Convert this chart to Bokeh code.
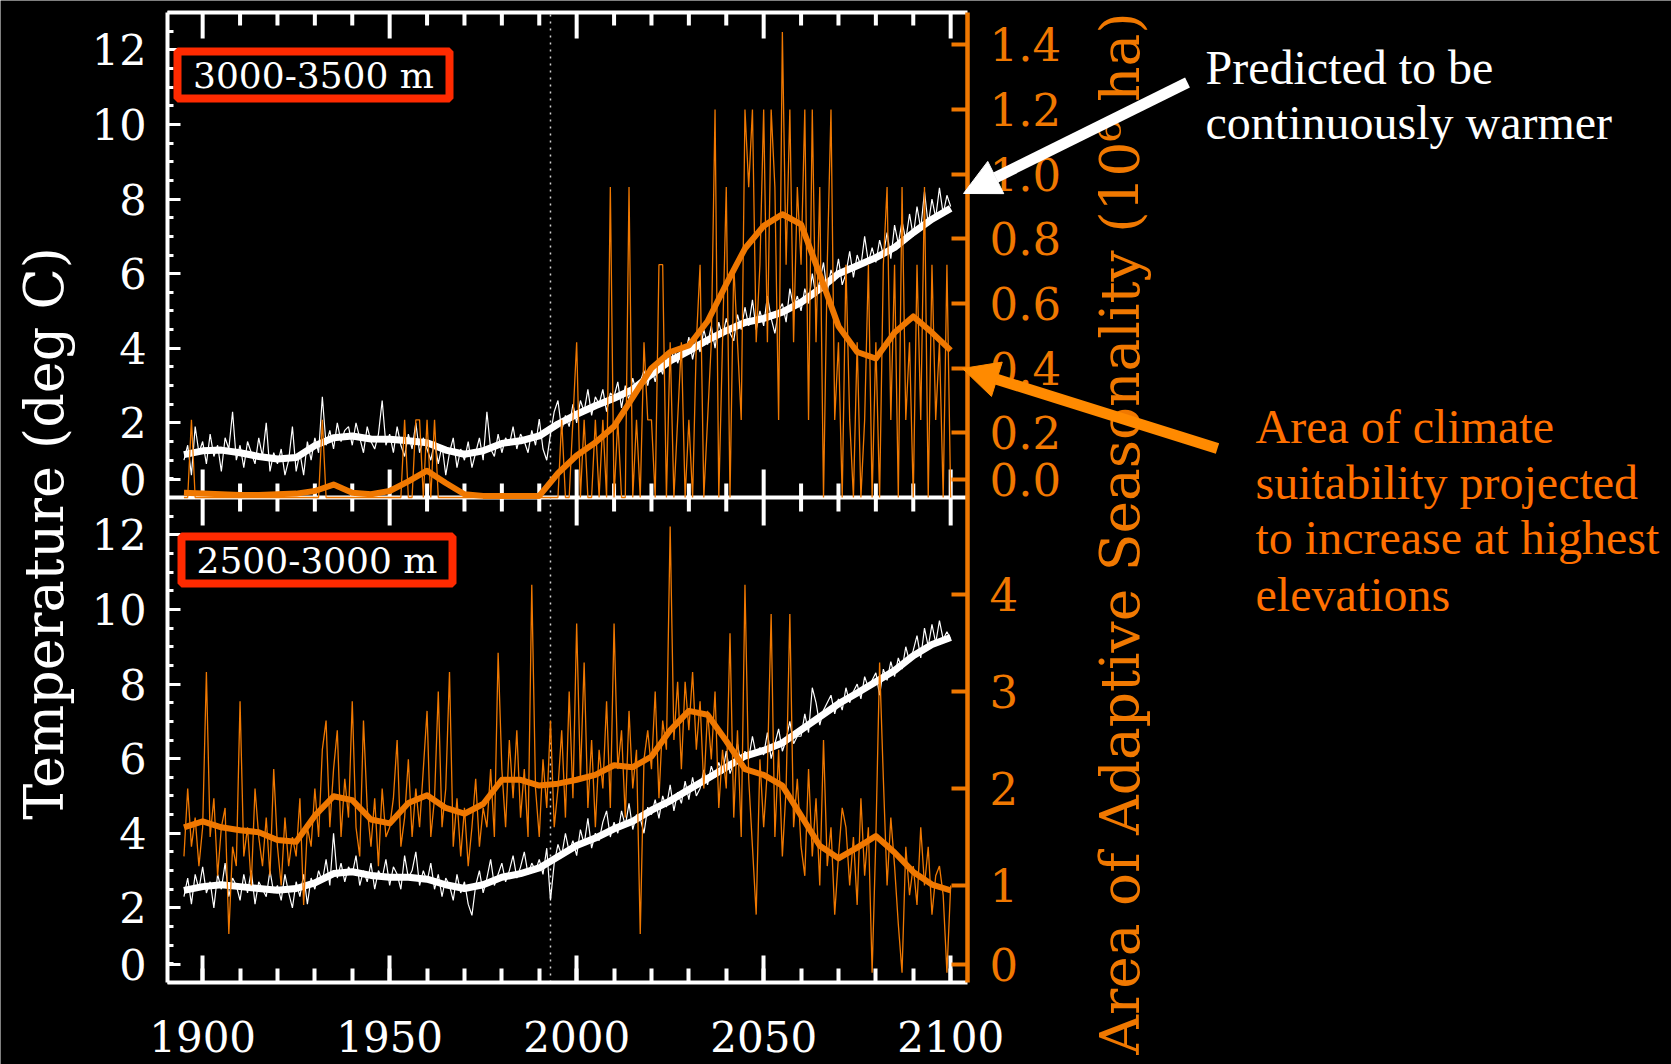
import math
from bokeh.plotting import figure
from bokeh.models import (Range1d, LinearAxis, FixedTicker, CustomJSTickFormatter,
                          Label, Arrow, NormalHead, BoxAnnotation)
from bokeh.embed import file_html
from bokeh.resources import INLINE

# ---------------- data ----------------
years = list(range(1895, 2101))           # annual values
smooth_years = list(range(1895, 2101, 5))  # smoothed curves

# 3000-3500 m : annual temperature (deg C)
temp_top = [
    1.0, 1.4, 0.6, 1.9, 1.2,
    1.5, 0.9, 1.7, 1.1, 1.4, 0.7, 1.6, 1.3, 2.3, 1.0,
    1.4, 0.8, 1.5, 1.2, 0.9, 1.6, 1.1, 2.0, 0.7, 1.2,
    0.9, 1.3, 0.6, 1.0, 1.9, 0.7, 1.2, 0.6, 1.5, 1.0,
    1.6, 1.2, 2.7, 1.4, 1.8, 1.3, 2.0, 1.5, 1.8, 1.9,
    1.4, 2.0, 1.6, 1.2, 1.9, 1.5, 1.3, 1.7, 2.6, 1.4,
    1.7, 1.2, 1.9, 1.4, 1.1, 1.7, 1.3, 2.0, 1.2, 1.6,
    1.3, 1.0, 1.5, 0.9, 1.4, 0.6, 1.2, 1.6, 0.8, 1.3,
    1.0, 1.5, 0.8, 1.2, 1.6, 1.0, 2.3, 1.3, 1.1, 1.7,
    1.2, 1.6, 1.4, 1.9, 1.3, 1.7, 1.5, 1.2, 1.8, 1.4,
    2.1, 1.3, 1.0, 1.7, 2.3, 2.6, 1.8, 2.2, 1.9, 2.5,
    2.0, 2.6, 2.3, 2.9, 2.2, 2.7, 2.5, 2.9, 2.3, 2.8,
    2.7, 3.1, 2.4, 3.0, 2.6, 3.2, 2.8, 3.1, 3.4, 3.0,
    3.5, 3.1, 3.6, 3.3, 3.9, 3.5, 4.0, 3.6, 3.9, 3.8,
    4.3, 3.7, 4.2, 3.9, 4.5, 4.1, 4.6, 4.0, 4.7, 4.3,
    4.8, 4.4, 4.2, 4.9, 4.5, 5.1, 4.6, 5.3, 4.5, 5.0,
    4.6, 5.4, 4.8, 4.4, 5.0, 5.2, 4.7, 5.6, 5.1, 5.4,
    5.0, 5.6, 5.2, 6.0, 5.4, 5.8, 6.3, 5.5, 6.1, 5.8,
    6.4, 5.7, 6.0, 6.6, 5.9, 6.5, 6.2, 7.0, 6.3, 6.7,
    6.3, 6.9, 6.5, 7.1, 6.4, 7.3, 6.8, 7.4, 6.9, 7.6,
    7.0, 7.8, 7.2, 8.2, 7.3, 8.0, 7.5, 8.3, 7.6, 8.1,
    7.8,
]
# 3000-3500 m : annual area of adaptive seasonality (10^6 ha)
area_top = [
    0, 0, 0.24, 0, 0,
    0, 0, 0, 0, 0, 0, 0, 0, 0, 0,
    0, 0, 0, 0, 0, 0, 0, 0, 0, 0,
    0, 0, 0, 0, 0, 0, 0, 0, 0, 0,
    0, 0, 0.24, 0, 0, 0, 0, 0, 0, 0,
    0, 0, 0, 0, 0, 0, 0, 0, 0, 0,
    0, 0, 0, 0, 0.24, 0, 0, 0.24, 0.24, 0,
    0.24, 0, 0.24, 0, 0, 0, 0, 0, 0, 0,
    0, 0, 0, 0, 0, 0, 0, 0, 0, 0,
    0, 0, 0, 0, 0, 0, 0, 0, 0, 0,
    0, 0, 0, 0, 0, 0, 0.24, 0, 0, 0.24,
    0.48, 0, 0.24, 0, 0, 0.24, 0, 0.24, 0, 0.96,
    0, 0.24, 0, 0, 0.96, 0, 0.24, 0, 0.48, 0.24,
    0.24, 0, 0.72, 0.72, 0, 0.48, 0, 0.24, 0.48, 0,
    0.24, 0, 0.48, 0.72, 0, 0.24, 0.48, 1.2, 0, 0.48,
    0.96, 0, 0.72, 0.48, 0.24, 1.2, 0.96, 1.2, 0.48, 0.72,
    1.2, 0.48, 1.2, 0.96, 0.24, 1.44, 0.72, 1.2, 0.48, 0.96,
    0.72, 1.2, 0.24, 1.2, 0.48, 0.96, 0, 0.72, 1.2, 0.24,
    0.48, 0, 0.72, 0.24, 0, 0.48, 0, 0.24, 0.72, 0,
    0.48, 0, 0.72, 0.96, 0.24, 0.72, 0, 0.96, 0.24, 0.48,
    0, 0.72, 0.24, 0.96, 0, 0.72, 0.24, 0.48, 0, 0.72,
    0,
]
# 2500-3000 m : annual temperature (deg C)
temp_bot = [
    2.3, 2.8, 2.1, 2.9, 2.5,
    3.1, 2.4, 2.7, 2.0, 2.9, 2.5, 3.2, 2.3, 2.8, 2.6,
    2.2, 2.9, 2.4, 3.0, 2.1, 2.7, 2.5, 2.3, 3.0, 2.4,
    2.6, 2.2, 2.9, 2.4, 2.0, 2.7, 2.3, 2.9, 2.1, 2.8,
    2.5, 3.0, 2.7, 3.3, 2.6, 4.0, 2.8, 3.2, 2.7, 3.1,
    2.9, 3.4, 2.6, 3.0, 2.7, 3.2, 2.5, 3.0, 2.8, 3.3,
    2.6, 3.1, 2.9, 2.5, 3.4, 2.8, 3.0, 3.5, 2.6, 3.0,
    2.7, 3.2, 2.5, 2.9, 2.3, 2.8, 2.6, 2.2, 2.9, 2.4,
    2.7, 2.1, 1.8, 2.6, 3.0, 2.4, 2.8, 3.3, 2.6, 2.9,
    3.2, 2.7, 3.0, 3.4, 2.8, 3.1, 3.5, 2.9, 3.2, 3.0,
    3.3, 2.9, 3.6, 2.2, 3.2, 3.7, 3.4, 4.0, 3.5, 3.8,
    3.4, 4.1, 3.7, 4.4, 3.6, 4.0, 3.8, 4.3, 4.6, 3.9,
    4.3, 4.0, 4.6, 4.2, 4.8, 4.1, 4.5, 4.4, 4.0, 4.7,
    4.5, 4.9, 4.4, 5.0, 4.7, 5.3, 4.6, 5.1, 4.8, 5.4,
    4.9, 5.5, 5.0, 5.2, 5.7, 5.3, 5.8, 5.5, 5.9, 5.6,
    6.2, 5.6, 5.9, 6.4, 5.8, 6.2, 6.0, 6.6, 6.1, 6.3,
    6.1, 6.7, 6.0, 6.4, 6.8, 6.2, 6.5, 7.0, 6.4, 6.6,
    6.6, 7.2, 6.7, 7.9, 7.5, 6.9, 7.3, 7.5, 7.7, 7.2,
    7.6, 7.3, 7.9, 7.5, 7.8, 8.0, 7.6, 8.2, 7.9, 8.1,
    8.3, 7.7, 8.4, 8.1, 8.6, 8.2, 8.7, 8.4, 9.0, 8.6,
    8.9, 9.3, 8.7, 9.5, 9.0, 9.6, 9.1, 9.7, 9.2, 9.4,
    9.2,
]
# 2500-3000 m : annual area of adaptive seasonality (10^6 ha)
area_bot = [
    1.3, 2.0, 1.4, 1.7, 1.2,
    1.6, 3.2, 1.5, 1.9, 1.1, 1.6, 1.8, 0.5, 1.4, 1.2,
    2.9, 1.3, 1.6, 1.0, 2.0, 1.5, 1.2, 1.7, 1.1, 2.2,
    1.4, 1.0, 1.7, 1.2, 1.5, 1.3, 1.9, 0.8, 1.6, 1.4,
    2.0, 1.5, 2.4, 2.7, 1.6, 2.2, 2.6, 1.5, 2.1, 1.7,
    2.9, 1.6, 1.3, 2.7, 1.8, 1.4, 1.9, 1.2, 2.0, 1.5,
    1.6, 1.9, 2.5, 1.4, 1.7, 2.3, 1.5, 2.0, 1.6, 2.2,
    2.8, 1.5, 1.9, 3.0, 1.6, 2.0, 3.2, 1.4, 1.9, 1.3,
    1.8, 1.2, 1.6, 2.1, 1.4, 1.8, 1.6, 2.2, 1.5, 3.4,
    2.2, 1.6, 2.5, 1.9, 2.6, 1.7, 2.2, 1.5, 4.1, 2.0,
    1.5, 2.3, 1.8, 2.7, 1.6, 2.0, 2.6, 1.7, 3.0, 1.9,
    3.7, 2.1, 3.3, 1.8, 2.5, 1.6, 2.4, 2.0, 2.9, 1.8,
    3.7, 2.2, 2.6, 1.7, 2.8, 2.0, 2.4, 0.5, 2.3, 2.6,
    2.2, 3.0, 1.9, 2.7, 2.4, 4.7, 2.5, 3.1, 2.2, 3.1,
    2.6, 3.2, 2.4, 2.9, 2.0, 2.8, 2.3, 3.0, 1.8, 2.4,
    2.0, 3.6, 1.7, 2.6, 1.5, 4.1, 2.1, 1.4, 0.7, 2.3,
    1.6, 2.2, 3.8, 1.5, 2.4, 1.3, 2.0, 3.8, 1.6, 2.1,
    1.4, 1.1, 2.2, 1.3, 1.9, 1.0, 2.5, 1.2, 1.6, 0.7,
    1.3, 1.8, 1.6, 1.0, 1.5, 0.8, 1.9, 1.1, 1.6, 0.1,
    1.5, 3.3, 2.1, 1.0, 1.7, 1.2, 0.6, 0.1, 1.4, 0.9,
    1.2, 0.8, 1.6, 1.0, 1.4, 0.7, 1.1, 1.2, 0.9, 0.1,
    1.0,
]
# smoothed curves (every 5 years, 1895-2100)
temp_top_smooth = [1.15, 1.25, 1.27, 1.2, 1.1, 1.03, 1.07, 1.39, 1.6, 1.65, 1.57, 1.56, 1.52, 1.47,
                   1.27, 1.16, 1.25, 1.45, 1.52, 1.65, 1.97, 2.23, 2.46, 2.66, 2.9, 3.3, 3.66, 3.93,
                   4.22, 4.47, 4.69, 4.8, 4.97, 5.23, 5.59, 6.0, 6.21, 6.43, 6.7, 7.1, 7.46, 7.75]
area_top_smooth = [0.015, 0.012, 0.01, 0.008, 0.008, 0.01, 0.012, 0.02, 0.04, 0.015, 0.01, 0.02, 0.05,
                   0.083, 0.045, 0.01, 0.005, 0.005, 0.005, 0.005, 0.075, 0.13, 0.17, 0.22, 0.31,
                   0.4, 0.45, 0.47, 0.545, 0.66, 0.77, 0.84, 0.876, 0.845, 0.69, 0.53, 0.45, 0.43,
                   0.51, 0.56, 0.51, 0.455]
temp_bot_smooth = [2.47, 2.57, 2.62, 2.57, 2.52, 2.47, 2.52, 2.67, 2.92, 2.97, 2.87, 2.82, 2.82, 2.77,
                   2.62, 2.52, 2.62, 2.82, 2.92, 3.07, 3.37, 3.67, 3.87, 4.12, 4.32, 4.62, 4.87, 5.17,
                   5.47, 5.77, 6.07, 6.22, 6.42, 6.77, 7.12, 7.47, 7.76, 8.06, 8.36, 8.76, 9.06, 9.25]
area_bot_smooth = [1.6, 1.66, 1.6, 1.57, 1.55, 1.47, 1.45, 1.72, 1.92, 1.88, 1.68, 1.64, 1.85, 1.93,
                   1.8, 1.74, 1.84, 2.09, 2.09, 2.03, 2.05, 2.09, 2.14, 2.24, 2.22, 2.33, 2.6, 2.8,
                   2.76, 2.49, 2.2, 2.14, 2.03, 1.72, 1.41, 1.28, 1.39, 1.51, 1.34, 1.14, 1.01, 0.95]

x_major_ticks = [1900, 1950, 2000, 2050, 2100]
x_minor_ticks = list(range(1900, 2101, 10))
temp_ticks = [0, 2, 4, 6, 8, 10, 12]
area_top_ticks = [0.0, 0.2, 0.4, 0.6, 0.8, 1.0, 1.2, 1.4]
area_bot_ticks = [0, 1, 2, 3, 4]
obs_end_year = 1993
panel_names = ["3000-3500 m", "2500-3000 m"]

# ---------------- styling / layout ----------------
WHITE = "#ffffff"
ORANGE = "#f07800"
AXIS_ORANGE = "#f07800"
NOTE_ORANGE = "#ff7000"
ARROW_ORANGE = "#ff8a00"
RED = "#ff2a00"
TICK_FONT = "DejaVu Serif"
NOTE_FONT = "Liberation Serif"

CANVAS_W, CANVAS_H = 1671, 1064
PLOT_LEFT_PX, PLOT_RIGHT_PX = 167, 967
PLOT_TOP_PX, PLOT_BOTTOM_PX = 12, 982
PLOT_X0, PLOT_X1 = 1890.6, 2104.5

TEMP_SPAN = 13.0                  # each panel shows 0..13 deg C
AREA_TOP_MAX, AREA_BOT_MAX = 1.5, 5.0
ZERO_LIFT_T = 0.48                # the "0" labels sit a little above each panel floor
ZERO_LIFT_A = 0.19

ppy = (PLOT_RIGHT_PX - PLOT_LEFT_PX) / (PLOT_X1 - PLOT_X0)
x_range = Range1d(PLOT_X0 - PLOT_LEFT_PX / ppy, PLOT_X1 + (CANVAS_W - PLOT_RIGHT_PX) / ppy)


def vrange(vb, vt):
    """range whose values vb..vt cover the two stacked panels; the frame fills the canvas"""
    ppu = (PLOT_BOTTOM_PX - PLOT_TOP_PX) / (vt - vb)
    return Range1d(vb - (CANVAS_H - PLOT_BOTTOM_PX) / ppu, vt + PLOT_TOP_PX / ppu)


p = figure(width=CANVAS_W, height=CANVAS_H, output_backend="svg", toolbar_location=None,
           x_range=x_range, y_range=vrange(0, 2 * TEMP_SPAN),
           x_axis_location=None, y_axis_location=None,
           background_fill_color="black", border_fill_color="black", outline_line_color=None,
           min_border=0, min_border_left=0, min_border_right=0, min_border_bottom=0,
           min_border_top=0)
p.grid.visible = False
p.extra_y_ranges = {
    "ttop": vrange(-TEMP_SPAN, TEMP_SPAN),
    "atop": vrange(-AREA_TOP_MAX, AREA_TOP_MAX),
    "abot": vrange(0, 2 * AREA_BOT_MAX),
    "py": Range1d(CANVAS_H, 0),
}
p.extra_x_ranges = {"px": Range1d(0, CANVAS_W)}

lookup_code = """
for (let i = 0; i < pos.length; i++) { if (Math.abs(pos[i] - tick) < 1e-6) return lab[i]; }
return "";
"""

# ---- bottom (year) axis
xa = LinearAxis(fixed_location=0, bounds=(PLOT_X0, PLOT_X1),
                ticker=FixedTicker(ticks=x_major_ticks, minor_ticks=x_minor_ticks),
                axis_line_color=WHITE, axis_line_width=4,
                major_tick_line_color=WHITE, major_tick_line_width=4, major_tick_in=27, major_tick_out=0,
                minor_tick_line_color=WHITE, minor_tick_line_width=4, minor_tick_in=14, minor_tick_out=0,
                major_label_text_color=WHITE, major_label_text_font=TICK_FONT,
                major_label_text_font_size="42px", major_label_standoff=38)
p.add_layout(xa, "below")

# ---- left (temperature) axis, both panels
left_pos, left_lab = [], []
for off in (0.0, TEMP_SPAN):
    for t in temp_ticks:
        left_pos.append(off + (t if t else ZERO_LIFT_T))
        left_lab.append(str(t))
left_minor = [i * 0.5 for i in range(0, int(4 * TEMP_SPAN) + 1)]
ya = LinearAxis(fixed_location=PLOT_X0, bounds=(0, 2 * TEMP_SPAN),
                ticker=FixedTicker(ticks=left_pos, minor_ticks=left_minor),
                formatter=CustomJSTickFormatter(args=dict(pos=left_pos, lab=left_lab), code=lookup_code),
                axis_line_color=WHITE, axis_line_width=4,
                major_tick_line_color=WHITE, major_tick_line_width=3, major_tick_in=13, major_tick_out=0,
                minor_tick_line_color=WHITE, minor_tick_line_width=3, minor_tick_in=6, minor_tick_out=0,
                major_label_text_color=WHITE, major_label_text_font=TICK_FONT,
                major_label_text_font_size="43px", major_label_standoff=21)
p.add_layout(ya, "left")

# ---- right (area) axis, both panels, expressed on the "abot" scale
scale_top = (2 * AREA_BOT_MAX) / (2 * AREA_TOP_MAX)
right_pos, right_lab = [], []
for a in area_bot_ticks:
    right_pos.append(a if a else ZERO_LIFT_A)
    right_lab.append(str(a))
for a in area_top_ticks:
    right_pos.append(AREA_BOT_MAX + (a * scale_top if a else ZERO_LIFT_A))
    right_lab.append(f"{a:.1f}")
ra = LinearAxis(y_range_name="abot", fixed_location=PLOT_X1, bounds=(0, 2 * AREA_BOT_MAX),
                ticker=FixedTicker(ticks=right_pos, minor_ticks=[]),
                formatter=CustomJSTickFormatter(args=dict(pos=right_pos, lab=right_lab), code=lookup_code),
                axis_line_color=AXIS_ORANGE, axis_line_width=4.5,
                major_tick_line_color=AXIS_ORANGE, major_tick_line_width=4,
                major_tick_in=16, major_tick_out=0, minor_tick_line_color=None,
                major_label_text_color=AXIS_ORANGE, major_label_text_font=TICK_FONT,
                major_label_text_font_size="45px", major_label_standoff=22)
p.add_layout(ra, "right")

# ---- top frame line (ticks pointing down)
minor_only = [t for t in x_minor_ticks if t not in x_major_ticks]
p.segment(x0=[PLOT_X0], y0=[2 * TEMP_SPAN], x1=[PLOT_X1], y1=[2 * TEMP_SPAN],
          line_color=WHITE, line_width=4)
for ticks, length in [(x_major_ticks, 26), (minor_only, 13)]:
    p.segment(x0=ticks, y0=[PLOT_TOP_PX] * len(ticks), x1=ticks, y1=[PLOT_TOP_PX + length] * len(ticks),
              y_range_name="py", line_color=WHITE, line_width=4)

# ---- panel separator with ticks both ways
p.segment(x0=[PLOT_X0], y0=[TEMP_SPAN], x1=[PLOT_X1], y1=[TEMP_SPAN], line_color=WHITE, line_width=4)
p.scatter(x=x_major_ticks, y=[TEMP_SPAN] * len(x_major_ticks), marker="dash", size=56,
          angle=math.pi / 2, line_color=WHITE, line_width=4)
p.scatter(x=minor_only, y=[TEMP_SPAN] * len(minor_only), marker="dash", size=28,
          angle=math.pi / 2, line_color=WHITE, line_width=4)

# ---- end of observations
p.segment(x0=[obs_end_year], y0=[0], x1=[obs_end_year], y1=[2 * TEMP_SPAN],
          line_color="#d0d0d0", line_width=1.5, line_dash="2 5")

# ---- data
p.line(years, temp_top, y_range_name="ttop", line_color=WHITE, line_width=1.2)
p.line(smooth_years, temp_top_smooth, y_range_name="ttop", line_color=WHITE, line_width=7,
       line_join="round")
p.line(years, area_top, y_range_name="atop", line_color=ORANGE, line_width=1.3)
p.line(smooth_years, area_top_smooth, y_range_name="atop", line_color=ORANGE, line_width=6,
       line_join="round")

p.line(years, temp_bot, line_color=WHITE, line_width=1.2)
p.line(smooth_years, temp_bot_smooth, line_color=WHITE, line_width=7, line_join="round")
p.line(years, area_bot, y_range_name="abot", line_color=ORANGE, line_width=1.3)
p.line(smooth_years, area_bot_smooth, y_range_name="abot", line_color=ORANGE, line_width=6,
       line_join="round")

# ---- panel name boxes
for name, (l, r, t, b) in zip(panel_names, [(177, 449, 51, 98), (181, 452, 536, 583)]):
    p.add_layout(BoxAnnotation(left=l, right=r, top=t, bottom=b, x_range_name="px", y_range_name="py",
                               fill_alpha=0, line_alpha=1, line_color=RED, line_width=8))
    p.add_layout(Label(x=(l + r) / 2, y=(t + b) / 2, x_range_name="px", y_range_name="py",
                       text=name, text_align="center", text_baseline="middle",
                       text_font=TICK_FONT, text_font_size="36px", text_color=WHITE))

# ---- axis titles
p.add_layout(Label(x=44, y=533, x_range_name="px", y_range_name="py", angle=math.pi / 2,
                   text="Temperature (deg C)", text_align="center", text_baseline="middle",
                   text_font=TICK_FONT, text_font_size="54px", text_color=WHITE))
p.add_layout(Label(x=1119, y=533, x_range_name="px", y_range_name="py", angle=math.pi / 2,
                   text="Area of Adaptive Seasonality (10\u2076 ha)", text_align="center",
                   text_baseline="middle", text_font=TICK_FONT, text_font_size="55px",
                   text_color=AXIS_ORANGE))

# ---- annotations
for txt, yb in [("Predicted to be", 67), ("continuously warmer", 122)]:
    p.add_layout(Label(x=1205, y=yb, x_range_name="px", y_range_name="py", text=txt,
                       text_align="left", text_baseline="alphabetic", text_font=NOTE_FONT,
                       text_font_size="48px", text_color=WHITE))
for txt, yb in [("Area of climate", 426), ("suitability projected", 482),
                ("to increase at highest", 537), ("elevations", 594)]:
    p.add_layout(Label(x=1255, y=yb, x_range_name="px", y_range_name="py", text=txt,
                       text_align="left", text_baseline="alphabetic", text_font=NOTE_FONT,
                       text_font_size="48px", text_color=NOTE_ORANGE))

p.add_layout(Arrow(x_start=1187, y_start=82, x_end=963, y_end=193, x_range_name="px", y_range_name="py",
                   line_color=WHITE, line_width=11,
                   end=NormalHead(size=36, fill_color=WHITE, line_color=WHITE, line_width=1)))
p.add_layout(Arrow(x_start=1217, y_start=448, x_end=962, y_end=368, x_range_name="px", y_range_name="py",
                   line_color=ARROW_ORANGE, line_width=11,
                   end=NormalHead(size=36, fill_color=ARROW_ORANGE, line_color=ARROW_ORANGE, line_width=1)))

open("out.html", "w").write(file_html(p, INLINE))
